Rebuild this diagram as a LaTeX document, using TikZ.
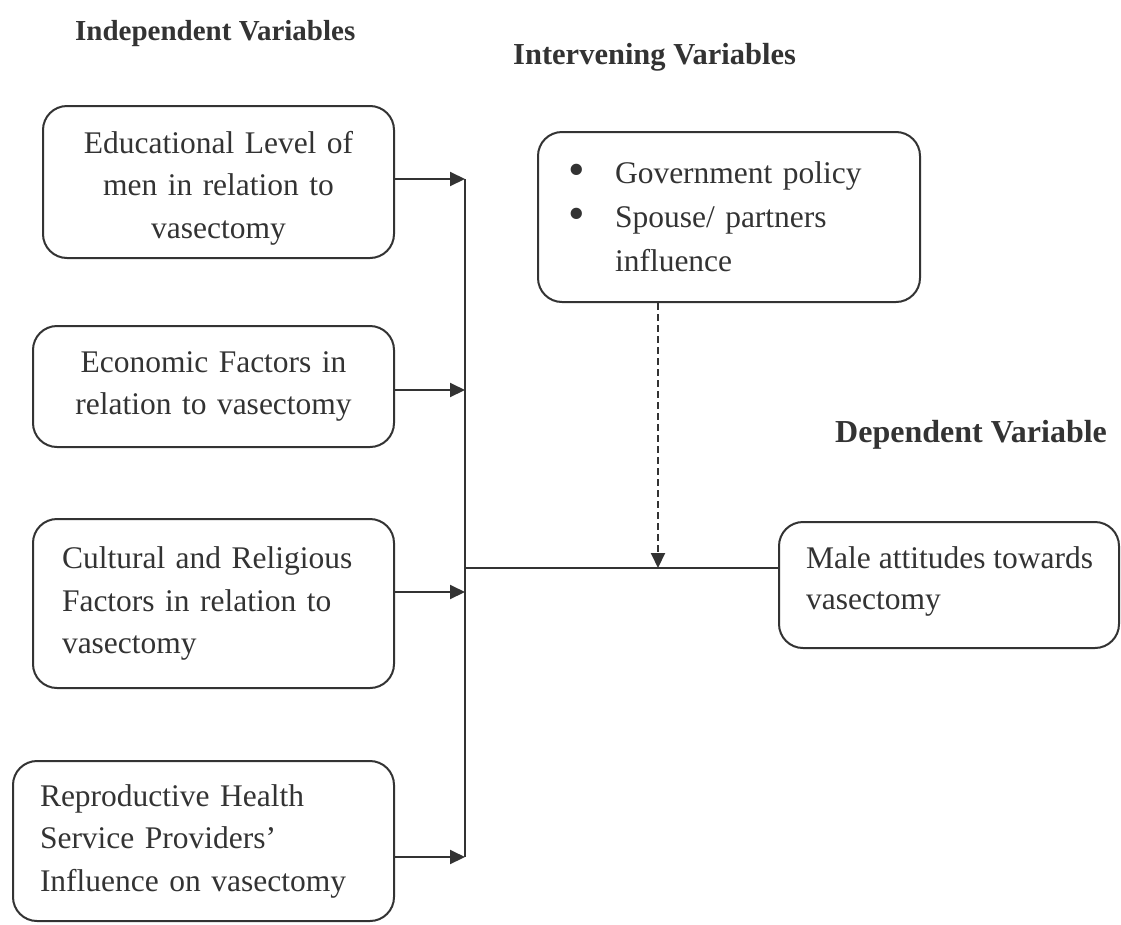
\documentclass[tikz,border=0pt]{standalone}
\usepackage{fontspec}
\setmainfont{Liberation Serif}
\usetikzlibrary{arrows.meta}
\definecolor{ink}{gray}{0.2}
\hyphenpenalty=10000
\tikzset{
  box/.style={draw=ink, line width=2pt, rounded corners=24pt, inner ysep=0pt,
    text=ink, font=\fontsize{31.5}{42.5}\selectfont},
  btext/.style={text=ink, inner sep=0pt, font=\fontsize{31.5}{42.5}\selectfont},
  title/.style={text=ink, inner sep=0pt, anchor=base west},
  arr/.style={draw=ink, line width=2pt, -{Triangle[length=15pt,width=14pt]}},
  bus/.style={draw=ink, line width=2pt},
  darr/.style={draw=ink, line width=2pt, dash pattern=on 7pt off 4pt, -{Triangle[length=15pt,width=14pt]}}
}
\newcommand{\bul}{\makebox[47pt][l]{\raisebox{-2pt}{\scalebox{1.5}{\textbullet}}}}
\begin{document}
\begin{tikzpicture}[x=1pt,y=-1pt]
\useasboundingbox (0,0) rectangle (1121,924);
% titles
\node[title, font=\fontsize{29}{34}\selectfont\bfseries] (tind) at (75,40) {Independent Variables};
\node[title, font=\fontsize{30.5}{36}\selectfont\bfseries] (tint) at (513,64) {Intervening Variables};
\node[title, font=\fontsize{32}{38}\selectfont\bfseries] (tdep) at (835,442) {Dependent Variable};
% independent boxes
\node[box, minimum width=351pt, minimum height=152pt] (b1) at (218.5,182) {};
\node[btext, text width=330pt, align=center] (b1t) at ([yshift=-6pt]b1.center) {Educational Level of\\men in relation to\\vasectomy};
\node[box, minimum width=361pt, minimum height=121pt, text width=340pt, align=center, inner xsep=0pt] (b2) at (213.5,386.5) {Economic Factors in\\relation to vasectomy};
\node[box, minimum width=361pt, minimum height=169pt, text width=303pt, align=left, inner xsep=29pt] (b3) at (213.5,603.5) {Cultural and Religious\\Factors in relation to\\vasectomy};
\node[box, minimum width=381pt, minimum height=160pt, text width=327pt, align=left, inner xsep=27pt] (b4) at (203.5,841) {Reproductive Health\\Service Providers’\\Influence on vasectomy};
% intervening box
\node[box, minimum width=382pt, minimum height=170pt, text width=322pt, align=left, inner xsep=30pt, font=\fontsize{31.5}{44}\selectfont] (inter) at (729,217)
  {\bul Government policy\\\bul Spouse/ partners\\\hspace*{47pt}influence};
% dependent box
\node[box, minimum width=340pt, minimum height=126pt] (dep) at (949,585) {};
\node[btext, align=left, anchor=west, font=\fontsize{31.5}{41}\selectfont] (dept) at (806,581) {Male attitudes towards\\vasectomy};
% junction coordinates on the bus
\coordinate (j1) at (465,179);
\coordinate (j2) at (465,390);
\coordinate (j3) at (465,592);
\coordinate (j4) at (465,857);
\coordinate (jm) at (465,568);
\coordinate (dtip) at (658,568);
% connectors
\draw[arr] (j1 -| b1.east) -- (j1);
\draw[arr] (j2 -| b2.east) -- (j2);
\draw[arr] (j3 -| b3.east) -- (j3);
\draw[arr] (j4 -| b4.east) -- (j4);
\draw[bus] (j1) -- (j4);
\draw[bus] (jm) -- (jm -| dep.west);
\draw[darr] (dtip |- inter.south) -- (dtip);
\end{tikzpicture}
\end{document}
